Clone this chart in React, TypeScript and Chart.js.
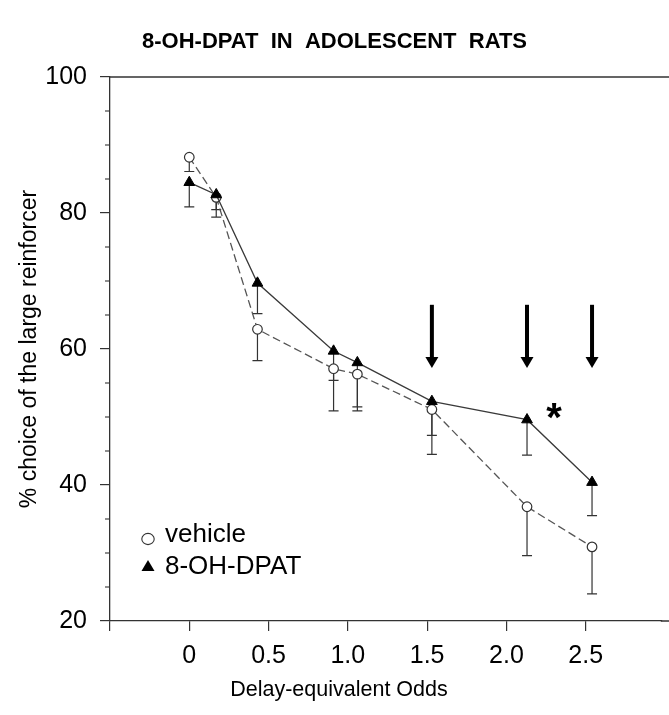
import { useEffect, useRef } from 'react';
import { Chart, registerables } from 'chart.js';

Chart.register(...registerables);

// ---- data ----
const oddsX = [0, 0.17, 0.43, 0.91, 1.06, 1.53, 2.13, 2.54];
const vehicleMean = [88.2, 82.3, 62.9, 57.1, 56.3, 51.1, 36.8, 30.9];
const vehicleSem = [2.1, 1.8, 4.6, 6.2, 5.4, 6.6, 7.2, 6.9];
const dpatMean = [84.5, 82.7, 69.7, 59.7, 58.0, 52.3, 49.6, 40.4];
const dpatSem = [3.6, 3.3, 4.5, 4.3, 6.5, 5.0, 5.2, 4.9];

const arrowX = [1.53, 2.13, 2.54];
const arrowTopValue = 66.5;
const arrowTipValue = 57.2;
const starX = 2.3;
const starY = 51.2;

const titleText = '8-OH-DPAT  IN  ADOLESCENT  RATS';
const xTitle = 'Delay-equivalent Odds';
const yTitle = '% choice of the large reinforcer';
const seriesNames = ['vehicle', '8-OH-DPAT'];

const FONT = "'Liberation Sans', Arial, Helvetica, sans-serif";
const AXIS = '#333';

const decorPlugin = {
  id: 'decor',
  beforeDatasetsDraw(chart: any) {
    const { ctx, scales } = chart;
    const xs = scales.x;
    const ys = scales.y;
    ctx.save();
    ctx.strokeStyle = '#333';
    ctx.lineWidth = 1.2;
    const draw = (means: number[], sems: number[]) => {
      means.forEach((m, i) => {
        const px = xs.getPixelForValue(oddsX[i]);
        const py = ys.getPixelForValue(m);
        const pl = ys.getPixelForValue(m - sems[i]);
        ctx.beginPath();
        ctx.moveTo(px, py);
        ctx.lineTo(px, pl);
        ctx.moveTo(px - 5, pl);
        ctx.lineTo(px + 5, pl);
        ctx.stroke();
      });
    };
    draw(vehicleMean, vehicleSem);
    draw(dpatMean, dpatSem);
    ctx.restore();
  },
  afterDraw(chart: any) {
    const { ctx, scales, chartArea } = chart;
    const xs = scales.x;
    const ys = scales.y;
    ctx.save();
    // top frame line, and axes continued to the right edge
    ctx.strokeStyle = AXIS;
    ctx.lineWidth = 1.3;
    ctx.beginPath();
    ctx.moveTo(chartArea.left, chartArea.top);
    ctx.lineTo(chart.width, chartArea.top);
    ctx.moveTo(chartArea.right - 1, chartArea.bottom);
    ctx.lineTo(chart.width, chartArea.bottom);
    ctx.stroke();
    // minor y ticks
    ctx.lineWidth = 1.1;
    for (let v = 25; v < 100; v += 5) {
      if (v % 20 === 0) continue;
      const py = ys.getPixelForValue(v);
      ctx.beginPath();
      ctx.moveTo(chartArea.left, py);
      ctx.lineTo(chartArea.left - 5, py);
      ctx.stroke();
    }
    // arrows
    ctx.fillStyle = '#000';
    ctx.strokeStyle = '#000';
    arrowX.forEach((ax) => {
      const px = xs.getPixelForValue(ax);
      const top = ys.getPixelForValue(arrowTopValue);
      const tip = ys.getPixelForValue(arrowTipValue);
      const headLen = 11;
      const headHalf = 6.5;
      ctx.lineWidth = 4;
      ctx.beginPath();
      ctx.moveTo(px, top);
      ctx.lineTo(px, tip - headLen + 1);
      ctx.stroke();
      ctx.beginPath();
      ctx.moveTo(px - headHalf, tip - headLen);
      ctx.lineTo(px + headHalf, tip - headLen);
      ctx.lineTo(px, tip);
      ctx.closePath();
      ctx.fill();
    });
    // star
    ctx.font = `bold 40px ${FONT}`;
    ctx.textAlign = 'center';
    ctx.textBaseline = 'alphabetic';
    ctx.fillText('*', xs.getPixelForValue(starX), ys.getPixelForValue(starY) + 22);
    // legend
    ctx.lineWidth = 1.1;
    ctx.strokeStyle = '#333';
    ctx.fillStyle = '#fff';
    ctx.beginPath();
    ctx.ellipse(148, 539, 6.2, 5.6, 0, 0, Math.PI * 2);
    ctx.fill();
    ctx.stroke();
    ctx.fillStyle = '#000';
    ctx.beginPath();
    ctx.moveTo(148, 560);
    ctx.lineTo(154.5, 571);
    ctx.lineTo(141.5, 571);
    ctx.closePath();
    ctx.fill();
    ctx.font = `26px ${FONT}`;
    ctx.textAlign = 'left';
    ctx.textBaseline = 'middle';
    ctx.fillText(seriesNames[0], 165, 535);
    ctx.fillText(seriesNames[1], 165, 567);
    // x axis title
    ctx.font = `21.5px ${FONT}`;
    ctx.textAlign = 'center';
    ctx.fillText(xTitle, 339, 690);
    ctx.restore();
  },
};

export default function App() {
  const ref = useRef<HTMLCanvasElement | null>(null);
  useEffect(() => {
    if (!ref.current) return;
    Chart.defaults.font.family = FONT;
    Chart.defaults.color = '#000';
    const chart = new Chart(ref.current, {
      type: 'line',
      data: {
        datasets: [
          {
            label: seriesNames[1],
            data: oddsX.map((x, i) => ({ x, y: dpatMean[i] })),
            borderColor: '#3a3a3a',
            borderWidth: 1.3,
            pointStyle: 'triangle',
            pointRadius: 6.2,
            pointBackgroundColor: '#000',
            pointBorderColor: '#000',
            pointBorderWidth: 1,
            order: 0,
          },
          {
            label: seriesNames[0],
            data: oddsX.map((x, i) => ({ x, y: vehicleMean[i] })),
            borderColor: '#555',
            borderWidth: 1.3,
            borderDash: [8, 4],
            pointStyle: 'circle',
            pointRadius: 4.8,
            pointBackgroundColor: '#fff',
            pointBorderColor: '#333',
            pointBorderWidth: 1.2,
            order: 1,
          },
        ],
      },
      options: {
        animation: false,
        responsive: false,
        layout: { padding: { left: 0, right: 0, top: 0, bottom: 0 } },
        plugins: {
          legend: { display: false },
          tooltip: { enabled: false },
          title: {
            display: true,
            text: titleText,
            font: { size: 22, weight: 'bold', family: FONT },
            color: '#000',
            padding: { top: 29, bottom: 21.6 },
          },
        },
        scales: {
          x: {
            type: 'linear',
            min: -0.5,
            max: 2.98,
            afterFit: (s: any) => {
              s.height = 94;
            },
            ticks: {
              stepSize: 0.5,
              includeBounds: false,
              autoSkip: false,
              maxRotation: 0,
              padding: 10,
              color: '#000',
              font: { size: 25, family: FONT },
              callback: (v: any) => {
                const n = Number(v);
                if (n < -1e-9) return '';
                if (Math.abs(n) < 1e-9) return '0';
                return n.toFixed(1);
              },
            },
            grid: {
              drawOnChartArea: false,
              drawTicks: true,
              tickLength: 10,
              color: AXIS,
              lineWidth: 1.2,
            },
            border: { display: true, color: AXIS, width: 1.3 },
          },
          y: {
            type: 'linear',
            min: 20,
            max: 100,
            afterFit: (s: any) => {
              s.width = 110;
            },
            ticks: {
              stepSize: 20,
              padding: 13,
              color: '#000',
              font: { size: 25, family: FONT },
            },
            grid: {
              drawOnChartArea: false,
              drawTicks: true,
              tickLength: 10,
              color: AXIS,
              lineWidth: 1.2,
            },
            border: { display: true, color: AXIS, width: 1.3 },
            title: {
              display: true,
              text: yTitle,
              color: '#000',
              font: { size: 23, family: FONT },
              padding: { top: 16, bottom: 0 },
            },
          },
        },
      },
      plugins: [decorPlugin],
    } as any);
    return () => chart.destroy();
  }, []);
  return (
    <canvas
      ref={ref}
      width={669}
      height={715}
      style={{ position: 'fixed', left: 0, top: 0, width: 669, height: 715, background: '#fff' }}
    />
  );
}
